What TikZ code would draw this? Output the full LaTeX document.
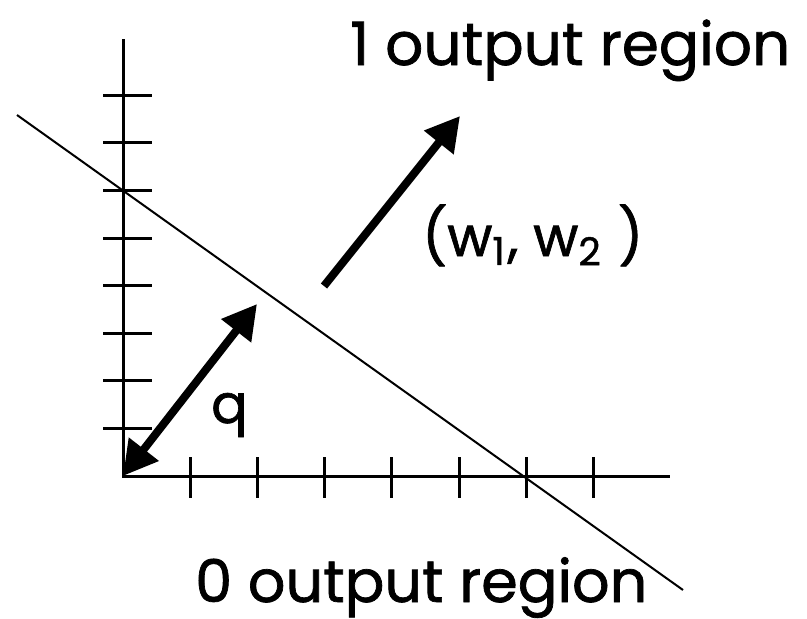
\documentclass[tikz,border=0pt]{standalone}
\usepackage{fontspec}
\setmainfont{Poppins}[FakeBold=1.2]
\usetikzlibrary{arrows.meta}
\tikzset{
  axisline/.style={line width=3pt},
  tickline/.style={line width=3pt},
  boundary/.style={line width=2pt},
  bigarrow/.style={line width=8pt, -{Triangle[length=34pt,width=36pt]}},
  bigdarrow/.style={line width=8pt, {Triangle[length=34pt,width=36pt]}-{Triangle[length=34pt,width=36pt]}},
  lbl/.style={inner sep=0pt, anchor=base west}
}
\begin{document}
\begin{tikzpicture}[x=1pt,y=-1pt]
\useasboundingbox (0,0) rectangle (807,619);
% axes
\coordinate (O) at (123,476);
\coordinate (Ytop) at (123,39);
\coordinate (Xend) at (670,476);
\draw[axisline] (Ytop) -- (O) -- (Xend);
% y ticks
\foreach \k in {1,...,8} {
  \coordinate (yl\k) at (103,476-47.6*\k);
  \coordinate (yr\k) at (152,476-47.6*\k);
  \draw[tickline] (yl\k) -- (yr\k);
}
% x ticks
\foreach \k in {1,...,7} {
  \coordinate (xt\k) at (123+67.2*\k,457);
  \coordinate (xb\k) at (123+67.2*\k,498);
  \draw[tickline] (xt\k) -- (xb\k);
}
% decision boundary
\coordinate (L1) at (17,115);
\coordinate (L2) at (683,590);
\draw[boundary] (L1) -- (L2);
% distance arrow
\coordinate (Q) at (257,304);
\draw[bigdarrow] (O) -- (Q);
% weight arrow
\coordinate (W0) at (324,286);
\coordinate (W1) at (460,116);
\draw[bigarrow] (W0) -- (W1);
% labels
\node[lbl] (one) at (350,65) {\resizebox{440pt}{!}{1 output region}};
\node[lbl] (zero) at (195,602) {\resizebox{452pt}{!}{0 output region}};
\node[lbl] (w) at (422,256) {\resizebox{221pt}{!}{(w\textsubscript{1}, w\textsubscript{2} )}};
\node[lbl] (q) at (211,423) {\resizebox{!}{30pt}{q}};
\end{tikzpicture}
\end{document}
